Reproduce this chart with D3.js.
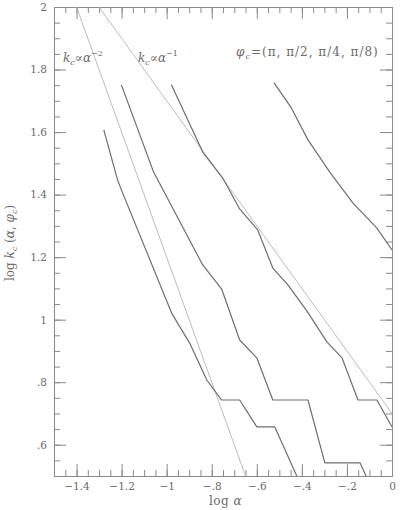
<!DOCTYPE html>
<html>
<head>
<meta charset="utf-8">
<script src="https://cdn.jsdelivr.net/npm/d3@7"></script>
<style>
body{margin:0;background:#fff;}
svg{display:block;}
</style>
</head>
<body>
<div id="chart"></div>
<script>

/* ==========================
   Data (log alpha, log k_c)
========================== */

const phiPi = [
[-1.279,1.607],[-1.218,1.447],[-1.201,1.415],[-0.978,1.021],
[-0.898,0.925],[-0.822,0.807],[-0.756,0.743],[-0.676,0.743],
[-0.600,0.657],[-0.520,0.657],[-0.373,0.420]
];

const phiHalf = [
[-1.201,1.751],[-1.058,1.472],[-0.840,1.175],[-0.756,1.098],
[-0.676,0.935],[-0.600,0.878],[-0.529,0.743],[-0.373,0.743],
[-0.298,0.542],[-0.142,0.542],[-0.071,0.430]
];

const phiQuarter = [
[-0.979,1.751],[-0.840,1.536],[-0.751,1.453],[-0.676,1.354],
[-0.596,1.287],[-0.529,1.165],[-0.462,1.111],[-0.378,1.028],
[-0.289,0.929],[-0.222,0.878],[-0.151,0.743],[-0.067,0.743],
[0,0.657]
];

const phiEighth = [
[-0.524,1.758],[-0.449,1.680],[-0.373,1.575],[-0.276,1.472],
[-0.173,1.373],[-0.067,1.293],[0,1.223]
];

// k_c ~ alpha^-2 and k_c ~ alpha^-1
const refSlope2 = [[-1.4,2],[-0.65,0.5]];
const refSlope1 = [[-1.3,2],[0,0.7]];

const xTicks = [-1.4,-1.2,-1,-0.8,-0.6,-0.4,-0.2,0];
const xTickLabels = ["\u22121.4","\u22121.2","\u22121","\u2212.8","\u2212.6","\u2212.4","\u2212.2","0"];
const yTicks = [0.6,0.8,1,1.2,1.4,1.6,1.8,2];
const yTickLabels = [".6",".8","1","1.2","1.4","1.6","1.8","2"];

/* ==========================
   Layout
========================== */

const width = 400;
const height = 510;
const plotLeft = 54, plotRight = 392, plotTop = 7, plotBottom = 476;

const axisColor = "#8a8a8a";
const textColor = "#6a6a6a";
const font = "'DejaVu Serif', serif";

const svg = d3.select("#chart")
.append("svg")
.attr("width", width)
.attr("height", height);

const x = d3.scaleLinear().domain([-1.5,0]).range([plotLeft,plotRight]);
const y = d3.scaleLinear().domain([0.5,2]).range([plotBottom,plotTop]);

const minorX = d3.range(-1.45,0,0.05).map(v => +v.toFixed(2));
const minorY = d3.range(0.55,2,0.05).map(v => +v.toFixed(2));

/* ==========================
   Axes (ticks pointing inward)
========================== */

function styleAxis(g){
g.selectAll("path,line").attr("stroke", axisColor);
g.selectAll("text")
.attr("fill", textColor)
.style("font-family", font)
.style("font-size", "10.5px");
}

svg.append("g")
.attr("transform", `translate(0,${plotBottom})`)
.call(d3.axisBottom(x).tickValues(xTicks)
.tickFormat((d,i) => xTickLabels[i])
.tickSizeInner(-12).tickSizeOuter(0).tickPadding(7))
.call(styleAxis);

svg.append("g")
.attr("transform", `translate(0,${plotBottom})`)
.call(d3.axisBottom(x).tickValues(minorX).tickFormat("")
.tickSizeInner(-6).tickSizeOuter(0))
.call(styleAxis);

svg.append("g")
.attr("transform", `translate(0,${plotTop})`)
.call(d3.axisTop(x).tickValues(xTicks).tickFormat("")
.tickSizeInner(-12).tickSizeOuter(0))
.call(styleAxis);

svg.append("g")
.attr("transform", `translate(0,${plotTop})`)
.call(d3.axisTop(x).tickValues(minorX).tickFormat("")
.tickSizeInner(-6).tickSizeOuter(0))
.call(styleAxis);

svg.append("g")
.attr("transform", `translate(${plotLeft},0)`)
.call(d3.axisLeft(y).tickValues(yTicks)
.tickFormat((d,i) => yTickLabels[i])
.tickSizeInner(-12).tickSizeOuter(0).tickPadding(7))
.call(styleAxis);

svg.append("g")
.attr("transform", `translate(${plotLeft},0)`)
.call(d3.axisLeft(y).tickValues(minorY).tickFormat("")
.tickSizeInner(-6).tickSizeOuter(0))
.call(styleAxis);

svg.append("g")
.attr("transform", `translate(${plotRight},0)`)
.call(d3.axisRight(y).tickValues(yTicks).tickFormat("")
.tickSizeInner(-12).tickSizeOuter(0))
.call(styleAxis);

svg.append("g")
.attr("transform", `translate(${plotRight},0)`)
.call(d3.axisRight(y).tickValues(minorY).tickFormat("")
.tickSizeInner(-6).tickSizeOuter(0))
.call(styleAxis);

/* ==========================
   Lines
========================== */

svg.append("clipPath")
.attr("id", "plotClip")
.append("rect")
.attr("x", plotLeft)
.attr("y", plotTop)
.attr("width", plotRight - plotLeft)
.attr("height", plotBottom - plotTop);

const line = d3.line()
.x(d => x(d[0]))
.y(d => y(d[1]));

const plot = svg.append("g").attr("clip-path", "url(#plotClip)");

[refSlope2, refSlope1].forEach(ref => {
plot.append("path")
.datum(ref)
.attr("d", line)
.attr("fill", "none")
.attr("stroke", "#b4b4b4")
.attr("stroke-width", 0.9);
});

[phiPi, phiHalf, phiQuarter, phiEighth].forEach(series => {
plot.append("path")
.datum(series)
.attr("d", line)
.attr("fill", "none")
.attr("stroke", "#6e6e6e")
.attr("stroke-width", 1.2)
.attr("stroke-linejoin", "round");
});

/* ==========================
   Labels
========================== */

function addLabel(px, py, parts){
const t = svg.append("text")
.attr("x", px)
.attr("y", py)
.attr("fill", textColor)
.style("font-family", font)
.style("font-size", "12px");
parts.forEach(p => {
t.append("tspan")
.attr("dy", p.dy || 0)
.style("font-style", p.italic ? "italic" : "normal")
.style("font-size", p.size || "12px")
.text(p.text);
});
return t;
}

addLabel(63, 62, [
{text:"k", italic:true},
{text:"c", italic:true, size:"8px", dy:3},
{text:"\u221d\u03b1", italic:true, dy:-3},
{text:"\u22122", size:"8px", dy:-6}
]);

addLabel(138, 62, [
{text:"k", italic:true},
{text:"c", italic:true, size:"8px", dy:3},
{text:"\u221d\u03b1", italic:true, dy:-3},
{text:"\u22121", size:"8px", dy:-6}
]);

addLabel(236, 56, [
{text:"\u03c6", italic:true},
{text:"c", italic:true, size:"8px", dy:3},
{text:"=(\u03c0, \u03c0/2, \u03c0/4, \u03c0/8)", dy:-3}
])
.style("letter-spacing", "1px");

addLabel((plotLeft + plotRight) / 2 - 14, 505, [
{text:"log "},
{text:"\u03b1", italic:true}
])
.style("letter-spacing", "0.5px");

addLabel(0, 0, [
{text:"log "},
{text:"k", italic:true},
{text:"c", italic:true, size:"8px", dy:3},
{text:" (", dy:-3},
{text:"\u03b1", italic:true},
{text:", "},
{text:"\u03c6", italic:true},
{text:"c", italic:true, size:"8px", dy:3},
{text:")", dy:-3}
])
.attr("text-anchor", "middle")
.attr("transform", "translate(14,243) rotate(-90)");

</script>
</body>
</html>
